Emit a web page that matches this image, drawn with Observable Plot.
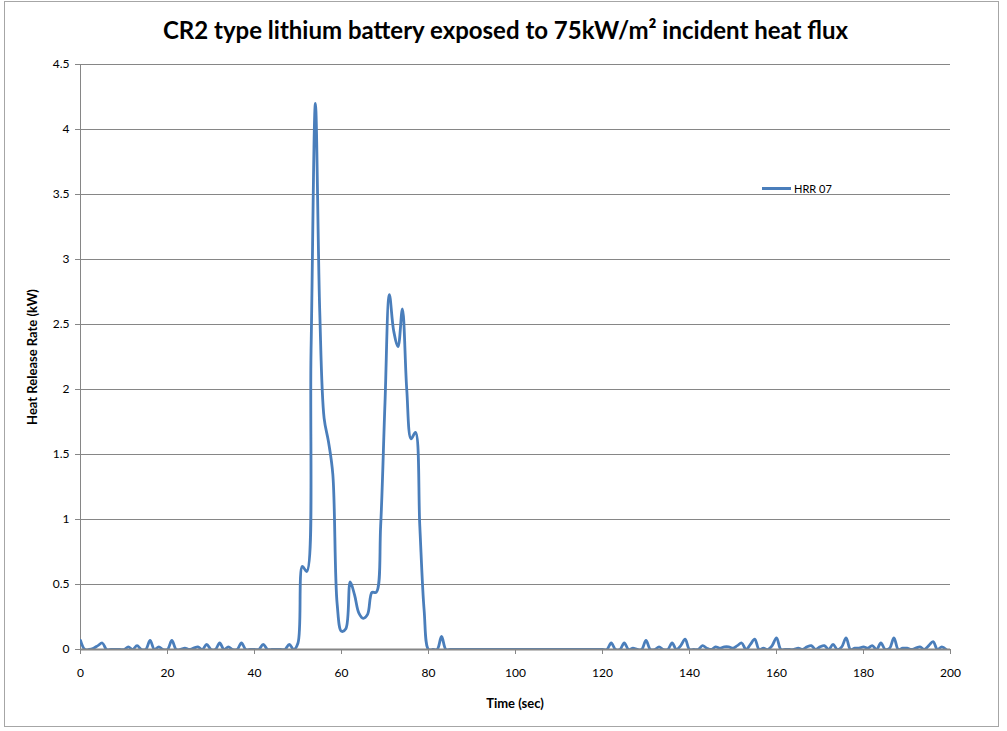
<!DOCTYPE html>
<html>
<head>
<meta charset="utf-8">
<script src="https://cdn.jsdelivr.net/npm/d3@7"></script>
<script src="https://cdn.jsdelivr.net/npm/@observablehq/plot@0.6"></script>
<style>
  html, body { margin: 0; padding: 0; background: #fff; }
  #wrap { position: relative; width: 1007px; height: 731px; overflow: hidden; font-family: Lato, "DejaVu Sans", sans-serif; }
  #border { position: absolute; left: 4px; top: 1px; width: 995px; height: 726px; border: 1px solid #a6a6a6; box-sizing: border-box; }
  #chart { position: absolute; left: 0; top: 0; }
  #title { position: absolute; left: 0; width: 1011px; top: 15px; text-align: center; font-weight: bold; font-size: 24px; color: #000; }
  #xlabel { position: absolute; left: 415px; width: 200px; top: 695px; text-align: center; font-weight: bold; font-size: 13px; }
  #ylabel { position: absolute; left: 32px; top: 357px; transform: translate(-50%, -50%) rotate(-90deg); white-space: nowrap; font-weight: bold; font-size: 13px; }
  #legend { position: absolute; left: 762px; top: 182px; font-size: 11px; display: flex; align-items: center; }
  #legend .sw { display: inline-block; width: 29px; height: 3px; background: #4a7ebb; margin-right: 3px; }
</style>
</head>
<body>
<div id="wrap">
  <div id="border"></div>
  <div id="chart"></div>
  <div id="title"></div>
  <div id="xlabel"></div>
  <div id="ylabel"></div>
  <div id="legend"><span class="sw"></span><span id="legtext"></span></div>
</div>
<script>
const chartTitle = "CR2 type lithium battery exposed to 75kW/m² incident heat flux";
const xTitle = "Time (sec)";
const yTitle = "Heat Release Rate (kW)";
const seriesName = "HRR 07";

const time = [
  0,1,2,3,4,5,6,7,8,9,10,11,12,13,14,15,16,17,18,19,
  20,21,22,23,24,25,26,27,28,29,30,31,32,33,34,35,36,37,38,39,
  40,41,42,43,44,45,46,47,48,49,50,51,52,53,54,55,56,57,58,59,
  60,61,62,63,64,65,66,67,68,69,70,71,72,73,74,75,76,77,78,79,
  80,81,82,83,84,85,86,87,88,89,90,91,92,93,94,95,96,97,98,99,
  100,101,102,103,104,105,106,107,108,109,110,111,112,113,114,115,116,117,118,119,
  120,121,122,123,124,125,126,127,128,129,130,131,132,133,134,135,136,137,138,139,
  140,141,142,143,144,145,146,147,148,149,150,151,152,153,154,155,156,157,158,159,
  160,161,162,163,164,165,166,167,168,169,170,171,172,173,174,175,176,177,178,179,
  180,181,182,183,184,185,186,187,188,189,190,191,192,193,194,195,196,197,198,199
];
const hrr = [
  0.07,0,0,0.01,0.03,0.05,0,0,0,0,0,0.02,0,0.03,0,0,0.07,0,0.02,0,
  0,0.07,0,0,0.01,0,0.01,0.02,0,0.04,0,0,0.05,0,0.02,0,0,0.05,0,0,
  0,0,0.04,0,0,0,0,0,0.04,0,0.05,0.64,0.6,2.3,4.2,2.6,1.78,1.6,1.35,0.35,
  0.14,0.16,0.52,0.42,0.28,0.24,0.27,0.44,0.44,0.95,1.9,2.73,2.45,2.33,2.62,2.0,1.62,1.67,0.95,0.3,
  0,0,0,0.1,0,0,0,0,0,0,0,0,0,0,0,0,0,0,0,0,
  0,0,0,0,0,0,0,0,0,0,0,0,0,0,0,0,0,0,0,0,
  0,0,0.05,0,0,0.05,0,0.01,0,0,0.07,0,0,0.02,0,0,0.05,0,0.03,0.08,
  0,0,0,0.03,0.01,0,0.02,0.01,0.02,0.02,0.01,0.03,0.05,0,0.04,0.08,0,0.01,0,0.03,
  0.09,0,0,0,0,0.01,0,0.02,0.03,0,0.02,0.03,0,0.04,0,0.02,0.09,0,0.01,0.01,
  0.02,0.01,0.03,0,0.05,0,0.01,0.09,0,0.01,0.01,0,0.01,0.02,0,0.03,0.06,0,0.02,0
];
const yTicks = [0, 0.5, 1, 1.5, 2, 2.5, 3, 3.5, 4, 4.5];
const xTicks = [0, 20, 40, 60, 80, 100, 120, 140, 160, 180, 200];

const data = time.map((t, i) => ({t, v: hrr[i]}));

const gray = "#868686";
const plot = Plot.plot({
  width: 1007,
  height: 731,
  marginLeft: 80,
  marginRight: 57,
  marginTop: 64,
  marginBottom: 82,
  style: {fontFamily: "Lato, 'DejaVu Sans', sans-serif", fontSize: "12px", color: "#000", background: "transparent"},
  x: {domain: [0, 200]},
  y: {domain: [0, 4.5]},
  marks: [
    Plot.gridY(yTicks, {stroke: gray, strokeOpacity: 1, strokeWidth: 1}),
    Plot.ruleX([0], {stroke: gray, strokeWidth: 1}),
    Plot.axisY(yTicks, {tickSize: 5, tickPadding: 6, stroke: gray, tickFormat: d => String(d), label: null}),
    Plot.axisX(xTicks, {tickSize: 5, tickPadding: 14, stroke: gray, tickFormat: d => String(d), label: null}),
    Plot.line(data, {x: "t", y: "v", curve: "catmull-rom", stroke: "#4a7ebb", strokeWidth: 2.8, clip: true}),
    Plot.ruleY([0], {stroke: gray, strokeWidth: 2})
  ]
});
document.getElementById("chart").appendChild(plot);
document.getElementById("title").textContent = chartTitle;
document.getElementById("xlabel").textContent = xTitle;
document.getElementById("ylabel").textContent = yTitle;
document.getElementById("legtext").textContent = seriesName;
</script>
</body>
</html>
